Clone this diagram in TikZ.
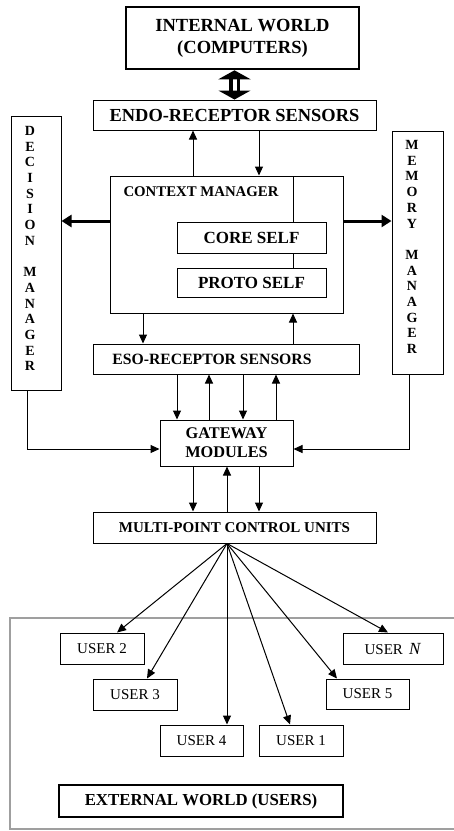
\documentclass[tikz,border=0pt]{standalone}
\usepackage{fontspec}
\setmainfont{Liberation Serif}
\usetikzlibrary{arrows.meta}
\tikzset{
  box/.style={draw, line width=1pt, inner sep=0pt, align=center, font=\bfseries\fontsize{17}{21}\selectfont},
  thickbox/.style={box, line width=2.6pt},
  ubox/.style={draw, line width=1pt, inner sep=0pt, minimum width=84pt, minimum height=31pt, font=\fontsize{15}{18}\selectfont},
  lbl/.style={inner sep=0pt, align=center, font=\bfseries\fontsize{17}{21}\selectfont},
  vlbl/.style={inner sep=0pt, align=center, font=\bfseries\fontsize{14}{15.7}\selectfont},
  arr/.style={line width=1pt, -{Triangle[length=9pt,width=8pt]}},
  bigarr/.style={line width=3pt, -{Triangle[length=10pt,width=12pt]}},
  dblarr/.style={line width=3.5pt, double distance=4pt, {Triangle[length=9pt,width=32pt]}-{Triangle[length=9pt,width=32pt]}},
}
\begin{document}
\begin{tikzpicture}[x=1pt,y=-1pt]
\useasboundingbox (0,0) rectangle (454,831);
% external frame
\draw[gray!75, line width=1.6pt] (460,618) -- (10,618) -- (10,829) -- (460,829);
% boxes
\node[thickbox, minimum width=233pt, minimum height=62pt, font=\bfseries\fontsize{18.5}{22}\selectfont] (iw) at (242.5,38) {INTERNAL WORLD\\(COMPUTERS)};
\node[box, minimum width=283pt, minimum height=30pt, font=\bfseries\fontsize{18.4}{21}\selectfont] (endo) at (234.5,115) {ENDO-RECEPTOR SENSORS};
\node[box, minimum width=50pt, minimum height=274pt] (dec) at (36,253) {};
\node[vlbl] (declbl) at (30,248.5) {D\\E\\C\\I\\S\\I\\O\\N\\~\\M\\A\\N\\A\\G\\E\\R};
\node[box, minimum width=51pt, minimum height=243pt] (mem) at (417.5,252.5) {};
\node[vlbl] (memlbl) at (412,247) {M\\E\\M\\O\\R\\Y\\~\\M\\A\\N\\A\\G\\E\\R};
\node[box, minimum width=233pt, minimum height=137pt] (ctx) at (226.5,244.5) {};
\node[lbl, font=\bfseries\fontsize{14.8}{17}\selectfont] (ctxlbl) at (201,192) {CONTEXT MANAGER};
\node[box, minimum width=149pt, minimum height=31pt] (core) at (251.5,237.5) {CORE SELF};
\node[box, minimum width=149pt, minimum height=29pt] (proto) at (251.5,282.5) {PROTO SELF};
\node[box, minimum width=266pt, minimum height=30pt] (eso) at (226,359) {};
\node[lbl, font=\bfseries\fontsize{15.7}{20}\selectfont] (esolbl) at (212,359) {ESO-RECEPTOR SENSORS};
\node[box, minimum width=133pt, minimum height=46pt, font=\bfseries\fontsize{16.3}{19}\selectfont] (gw) at (226.5,443) {GATEWAY\\MODULES};
\node[box, minimum width=283pt, minimum height=31pt, font=\bfseries\fontsize{15}{18}\selectfont] (mcu) at (234.5,527.5) {MULTI-POINT CONTROL UNITS};
\node[ubox] (u2) at (102,648.5) {USER 2};
\node[ubox, minimum width=100pt] (uN) at (393,648.5) {USER\, \textit{\fontsize{17}{18}\selectfont N}};
\node[ubox] (u3) at (135,694.5) {USER 3};
\node[ubox, minimum width=83pt, minimum height=30pt] (u5) at (367.5,694) {USER 5};
\node[ubox, minimum width=83pt] (u4) at (201.5,740.5) {USER 4};
\node[ubox] (u1) at (301,740.5) {USER 1};
\node[thickbox, minimum width=284pt, minimum height=32pt, font=\bfseries\fontsize{16.8}{20}\selectfont] (ext) at (201,801) {EXTERNAL WORLD (USERS)};
% connectors
\draw[dblarr] (endo.north |- iw.south) -- (endo.north);
\draw[arr] ([xshift=-33.5pt]ctx.north) -- ([xshift=-33.5pt]ctx.north |- endo.south);
\draw[arr] ([xshift=24.5pt]endo.south) -- ([xshift=24.5pt]endo.south |- ctx.north);
\draw[line width=1pt] ([xshift=41.5pt]core.north) -- ([xshift=41.5pt]core.north |- ctx.north);
\draw[line width=1pt] ([xshift=41.5pt]core.south) -- ([xshift=41.5pt]proto.north);
\draw[bigarr] ([yshift=23.5pt]ctx.west) -- ([yshift=23.5pt]ctx.west -| dec.east);
\draw[bigarr] ([yshift=23.5pt]ctx.east) -- ([yshift=23.5pt]ctx.east -| mem.west);
\draw[arr] ([xshift=-83.5pt]ctx.south) -- ([xshift=-83.5pt]ctx.south |- eso.north);
\draw[arr] ([xshift=66.5pt]ctx.south |- eso.north) -- ([xshift=66.5pt]ctx.south);
\draw[arr] ([xshift=-49.5pt]gw.north |- eso.south) -- ([xshift=-49.5pt]gw.north);
\draw[arr] ([xshift=-17.5pt]gw.north) -- ([xshift=-17.5pt]gw.north |- eso.south);
\draw[arr] ([xshift=16.5pt]gw.north |- eso.south) -- ([xshift=16.5pt]gw.north);
\draw[arr] ([xshift=49.5pt]gw.north) -- ([xshift=49.5pt]gw.north |- eso.south);
\draw[arr] ([xshift=-9pt]dec.south) |- ([yshift=-6pt]gw.west);
\draw[arr] ([xshift=-8.5pt]mem.south) |- ([yshift=-6pt]gw.east);
\draw[arr] ([xshift=-33.5pt]gw.south) -- ([xshift=-33.5pt]gw.south |- mcu.north);
\draw[arr] ([xshift=0.5pt]gw.south |- mcu.north) -- ([xshift=0.5pt]gw.south);
\draw[arr] ([xshift=32.5pt]gw.south) -- ([xshift=32.5pt]gw.south |- mcu.north);
\coordinate (fan) at ([xshift=-7.5pt]mcu.south);
\draw[arr] (fan) -- ([xshift=15pt]u2.north);
\draw[arr] (fan) -- ([xshift=12pt]u3.north);
\draw[arr] (fan) -- ([xshift=25.5pt]u4.north);
\draw[arr] (fan) -- ([xshift=-11pt]u1.north);
\draw[arr] (fan) -- ([xshift=-30.5pt]u5.north);
\draw[arr] (fan) -- ([xshift=-5pt]uN.north);
\end{tikzpicture}
\end{document}
